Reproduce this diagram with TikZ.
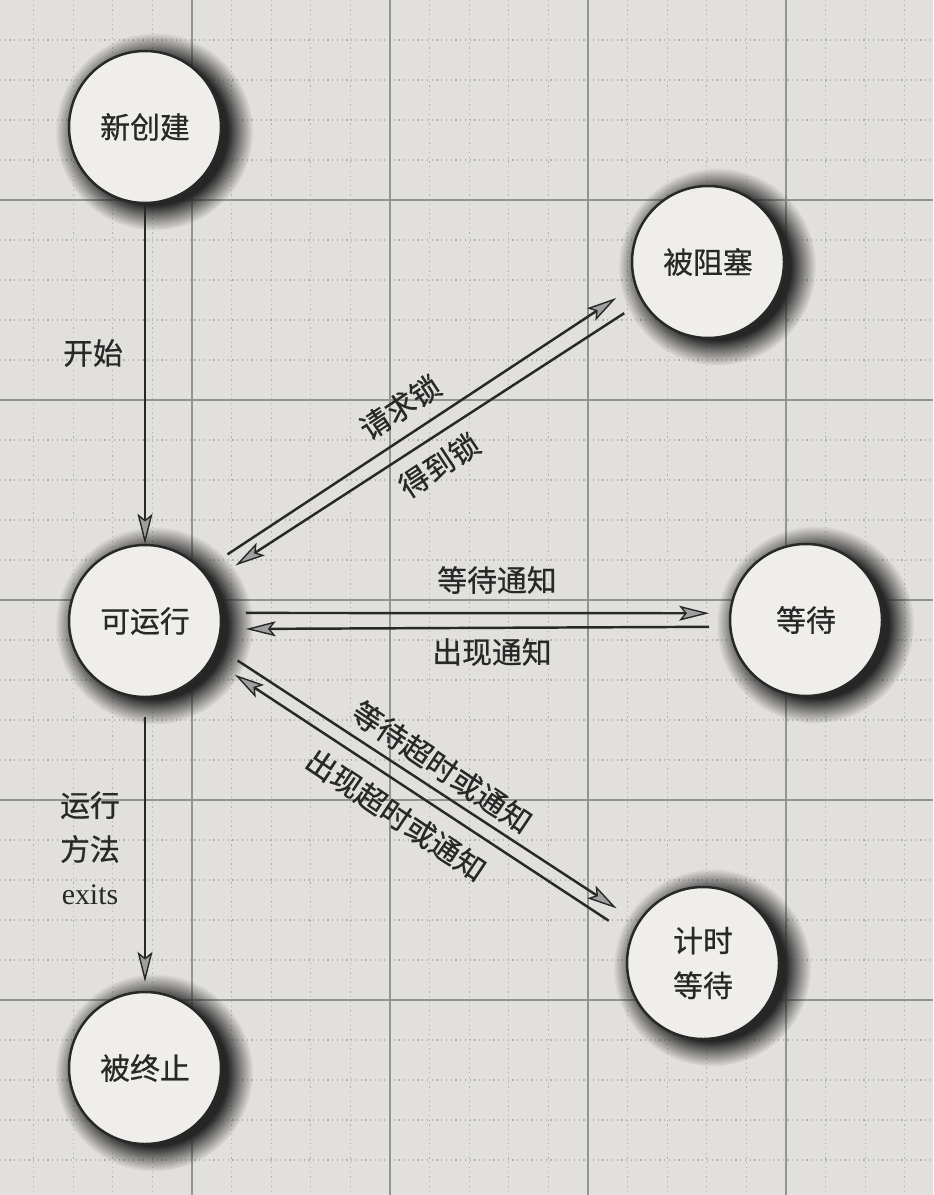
\documentclass[tikz,border=0pt]{standalone}
\usepackage{fontspec}
\setmainfont{Liberation Serif}
\newfontfamily\cjk[FakeBold=0.6]{Noto Sans CJK SC}
\usepackage{tikz}
\definecolor{mypaper}{RGB}{226,224,220}
\definecolor{myball}{RGB}{239,238,234}
\definecolor{myink}{RGB}{40,40,40}
\usetikzlibrary{arrows.meta,shadows,fadings,positioning,calc}
\pgfdeclareradialshading{softrimshade}{\pgfpointorigin}{%
  color(0bp)=(pgftransparent!0); color(18.5bp)=(pgftransparent!0);
  color(25bp)=(pgftransparent!100); color(50bp)=(pgftransparent!100)}
\pgfdeclarefading{soft rim}{\pgfuseshading{softrimshade}}
\tikzset{
    state/.style={
        draw=myink, circle, line width=1.4pt, fill=myball,
        minimum size=3.04cm, inner sep=0pt, text=myink, align=center,
        font=\cjk\fontsize{17}{25.5}\selectfont,
        circular drop shadow={shadow xshift=0.14cm, shadow yshift=-0.07cm,
            shadow scale=1.3, opacity=1, fill=black!85,
            path fading={soft rim}}
    }
}

\begin{document}
\begin{tikzpicture}[
    x=0.02cm, y=-0.02cm,
  arr/.style={
    line width=1.4pt, draw=myink,
    -{Stealth[length=0.6cm,width=0.3cm,inset=0.12cm,line width=0.8pt,fill=gray!75]}
    },
  lbl/.style={
    text=myink, inner sep=1pt,
    font=\cjk\fontsize{17}{25}\selectfont
    },
  minorline/.style={gray!60, dotted, line width=0.7pt},
  majorline/.style={gray!85, line width=0.9pt}
      ]

\useasboundingbox (0,0) rectangle (933,1195);
\fill[mypaper] (0,0) rectangle (933,1195);

% squared paper
\foreach \k in {-4,...,18}
  \draw[minorline] ({192+39.6*\k},0) -- ({192+39.6*\k},1195);
\foreach \k in {-4,...,24}
  \draw[minorline] (0,{200+40*\k}) -- (933,{200+40*\k});
\foreach \k in {0,...,3}
  \draw[majorline] ({192+198*\k},0) -- ({192+198*\k},1195);
\foreach \k in {0,...,4}
  \draw[majorline] (0,{200+200*\k}) -- (933,{200+200*\k});

\node[state] (new) at (145,127) {新创建};
\node[state] (blk) at (708,262) {被阻塞};
\node[state] (run) at (145,621) {可运行};
\node[state] (wait) at (806,620) {等待};
\node[state] (timed) at (703,963) {计时\\等待};
\node[state] (term) at (145,1068) {被终止};

\draw[arr] (new) -- (run);
\node[lbl] (startlbl) at (93,353) {开始};

\draw[arr, shorten <=0.38cm, shorten >=0.18cm] (run) -- (term);
\node[lbl, align=center] (exitlbl) at (90,848) {运行\\方法\\{\rmfamily exits}};

\draw[arr, shorten <=0.58cm, shorten >=0.44cm] (run.41) -- (blk.198);
\node[lbl, rotate=33.4] (reqlbl) at (400,407) {请求锁};
\draw[arr, shorten <=0.42cm, shorten >=0.58cm] (blk.211) -- (run.31);
\node[lbl, rotate=33.4] (gotlbl) at (439,465) {得到锁};

\draw[arr, shorten <=0.48cm, shorten >=0.40cm] (run.6) -- (wait.175);
\node[lbl] (waitlbl) at (497,580) {等待通知};
\draw[arr, shorten <=0.40cm, shorten >=0.48cm] (wait.185) -- (run.-6);
\node[lbl] (notilbl) at (492,652) {出现通知};

\draw[arr, shorten <=0.48cm, shorten >=0.50cm] (run.-20) -- (timed.148);
\node[lbl, rotate=-33.9] (tolbl) at (442,767) {等待超时或通知};
\draw[arr, shorten <=0.53cm, shorten >=0.55cm] (timed.159) -- (run.-30);
\node[lbl, rotate=-33.9] (tonlbl) at (396,815) {出现超时或通知};

\end{tikzpicture}
\end{document}
